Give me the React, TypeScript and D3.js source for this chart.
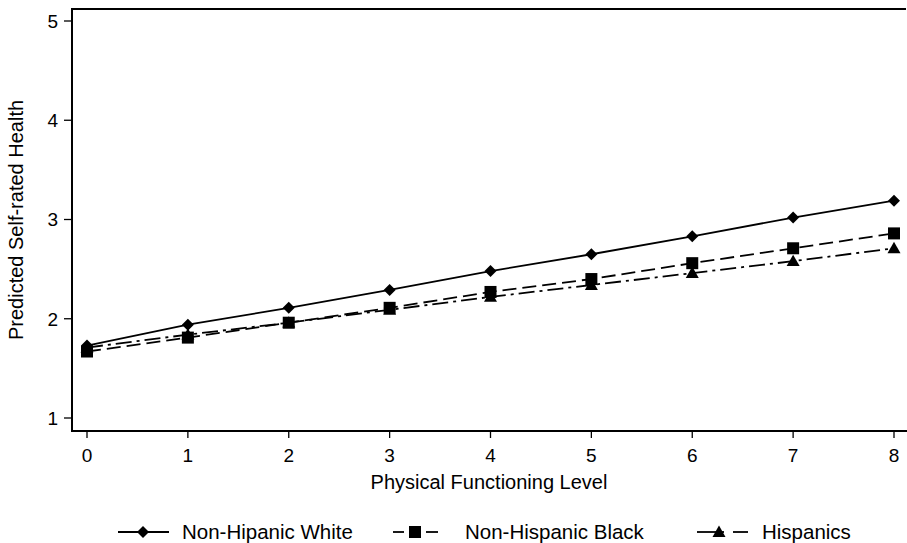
import React from "react";
import * as d3 from "d3";

const levels = [0, 1, 2, 3, 4, 5, 6, 7, 8];
const whiteValues = [1.73, 1.94, 2.11, 2.29, 2.48, 2.65, 2.83, 3.02, 3.19];
const blackValues = [1.67, 1.81, 1.96, 2.11, 2.27, 2.40, 2.56, 2.71, 2.86];
const hispanicValues = [1.71, 1.84, 1.96, 2.09, 2.22, 2.34, 2.46, 2.58, 2.71];
const xTicks = [0, 1, 2, 3, 4, 5, 6, 7, 8];
const yTicks = [1, 2, 3, 4, 5];
const seriesNames = ["Non-Hipanic White", "Non-Hispanic Black", "Hispanics"];

const W = 907;
const H = 543;
const left = 72;
const top = 9;
const bottom = 431;
const right = 906;

const x = d3.scaleLinear().domain([0, 8]).range([87, 894]);
const y = d3.scaleLinear().domain([1, 5]).range([418, 21]);

const font = "Liberation Sans, Arial, sans-serif";

type Kind = "diamond" | "square" | "triangle";

function Marker({ cx, cy, kind }: { cx: number; cy: number; kind: Kind }) {
  if (kind === "diamond") {
    const r = 6;
    return <path d={`M${cx},${cy - r}L${cx + r},${cy}L${cx},${cy + r}L${cx - r},${cy}Z`} fill="#000" />;
  }
  if (kind === "square") {
    const s = 6;
    return <rect x={cx - s} y={cy - s} width={2 * s} height={2 * s} fill="#000" />;
  }
  const r = 6.5;
  return <path d={`M${cx},${cy - r}L${cx + r},${cy + r * 0.75}L${cx - r},${cy + r * 0.75}Z`} fill="#000" />;
}

const series: { name: string; values: number[]; dash: string; kind: Kind }[] = [
  { name: seriesNames[2], values: hispanicValues, dash: "16,5,3,5", kind: "triangle" },
  { name: seriesNames[1], values: blackValues, dash: "14,6", kind: "square" },
  { name: seriesNames[0], values: whiteValues, dash: "none", kind: "diamond" },
];

export default function App() {
  const line = d3
    .line<number>()
    .x((_, i) => x(levels[i]))
    .y((d) => y(d));

  const ly = 532;
  const lw = 1.8;

  return (
    <svg width={W} height={H} style={{ position: "absolute", left: 0, top: 0, background: "#fff" }}>
      <rect x={0} y={0} width={W} height={H} fill="#fff" />
      {/* frame */}
      <line x1={left} y1={top} x2={right} y2={top} stroke="#000" strokeWidth={2} />
      <line x1={left} y1={top - 1} x2={left} y2={bottom + 1} stroke="#000" strokeWidth={2} />
      <line x1={left - 1} y1={bottom} x2={W} y2={bottom} stroke="#000" strokeWidth={2} />

      {/* y ticks */}
      {yTicks.map((t) => (
        <g key={"y" + t}>
          <line x1={64} x2={72} y1={y(t)} y2={y(t)} stroke="#000" strokeWidth={1.3} />
          <text x={58} y={y(t)} dy="0.36em" textAnchor="end" fontFamily={font} fontSize={19}>
            {t}
          </text>
        </g>
      ))}
      {/* x ticks */}
      {xTicks.map((t) => (
        <g key={"x" + t}>
          <line x1={x(t)} x2={x(t)} y1={bottom} y2={bottom + 7} stroke="#000" strokeWidth={1.3} />
          <text x={x(t)} y={462} textAnchor="middle" fontFamily={font} fontSize={19}>
            {t}
          </text>
        </g>
      ))}

      <text x={489} y={489} textAnchor="middle" fontFamily={font} fontSize={20}>
        Physical Functioning Level
      </text>
      <text
        transform={`translate(23,${220}) rotate(-90)`}
        textAnchor="middle"
        fontFamily={font}
        fontSize={20}
      >
        Predicted Self-rated Health
      </text>

      {/* series */}
      {series.map((s) => (
        <g key={s.name}>
          <path d={line(s.values) || ""} fill="none" stroke="#000" strokeWidth={lw} strokeDasharray={s.dash} />
          {s.values.map((v, i) => (
            <Marker key={i} cx={x(levels[i])} cy={y(v)} kind={s.kind} />
          ))}
        </g>
      ))}

      {/* legend */}
      <g>
        <line x1={118} x2={169} y1={ly} y2={ly} stroke="#000" strokeWidth={lw} />
        <Marker cx={143} cy={ly} kind="diamond" />
        <text x={182} y={ly} dy="0.36em" fontFamily={font} fontSize={20.5}>
          {seriesNames[0]}
        </text>

        <line x1={393} x2={404} y1={ly} y2={ly} stroke="#000" strokeWidth={lw} />
        <line x1={426} x2={438} y1={ly} y2={ly} stroke="#000" strokeWidth={lw} />
        <Marker cx={415} cy={ly} kind="square" />
        <text x={465} y={ly} dy="0.36em" fontFamily={font} fontSize={20.5}>
          {seriesNames[1]}
        </text>

        <line x1={697} x2={724} y1={ly} y2={ly} stroke="#000" strokeWidth={lw} />
        <line x1={733} x2={748} y1={ly} y2={ly} stroke="#000" strokeWidth={lw} />
        <Marker cx={719} cy={ly} kind="triangle" />
        <text x={762} y={ly} dy="0.36em" fontFamily={font} fontSize={20.5}>
          {seriesNames[2]}
        </text>
      </g>
    </svg>
  );
}
